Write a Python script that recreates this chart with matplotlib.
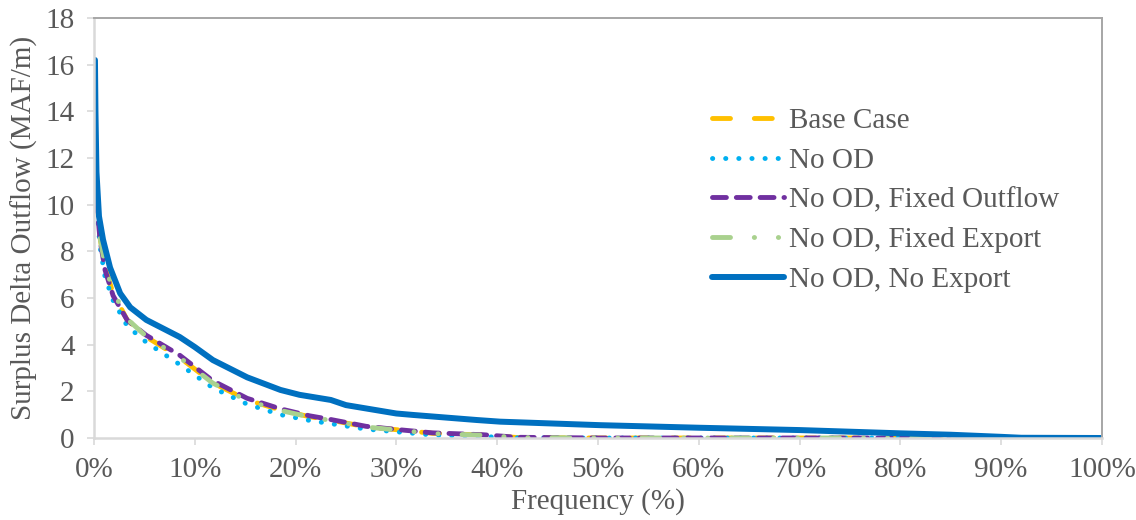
import matplotlib
matplotlib.use("Agg")
import matplotlib.pyplot as plt
from matplotlib.ticker import FuncFormatter, MultipleLocator

plt.rcParams['font.family'] = ['Liberation Serif', 'DejaVu Serif']

# Exceedance frequency (%) and surplus delta outflow (MAF/month)
freq = [0, 0.3, 0.6, 1.1, 1.9, 3.3, 5.2, 8.5, 11.8, 15.2, 18.5, 21.4, 23.4,
        27, 30.4, 33.6, 38.6, 42, 50, 60, 70, 80, 90, 100]
base_case = [12.5, 10.2, 8.6, 7.3, 6.2, 5.06, 4.33, 3.45, 2.36, 1.63, 1.2, 0.91, 0.77,
             0.48, 0.34, 0.2, 0.13, 0.02, 0, 0, 0, 0, 0, 0]
no_od = [12.0, 9.8, 8.2, 6.9, 5.9, 4.8, 4.1, 3.15, 2.15, 1.45, 1.0, 0.75, 0.62,
         0.38, 0.25, 0.13, 0.06, 0.01, 0, 0, 0, 0, 0, 0]
fixed_outflow = [12.3, 10.0, 8.5, 7.2, 6.1, 5.05, 4.4, 3.55, 2.45, 1.7, 1.25, 0.95, 0.8,
                 0.5, 0.35, 0.22, 0.14, 0.03, 0, 0, 0, 0, 0, 0]
fixed_export = [12.4, 10.1, 8.6, 7.4, 6.3, 5.1, 4.35, 3.45, 2.35, 1.6, 1.18, 0.9, 0.76,
                0.47, 0.33, 0.19, 0.12, 0.02, 0, 0, 0, 0, 0, 0]

freq_no_export = [0.1, 0.15, 0.25, 0.5, 0.9, 1.6, 2.6, 3.6, 5.2, 8.5, 10, 11.8, 15.2,
                  18.5, 20.4, 23.5, 25, 30, 31.6, 38, 40.3, 50.2, 60, 70, 80, 85,
                  90, 92, 100]
no_export = [16.2, 14.0, 11.4, 9.5, 8.5, 7.3, 6.2, 5.6, 5.06, 4.33, 3.9, 3.34, 2.6,
             2.06, 1.85, 1.63, 1.41, 1.05, 0.99, 0.77, 0.7, 0.55, 0.44, 0.34, 0.2, 0.14,
             0.05, 0.01, 0.0]

labels = ["Base Case", "No OD", "No OD, Fixed Outflow", "No OD, Fixed Export",
          "No OD, No Export"]

fig = plt.figure(figsize=(11.36, 5.2), dpi=100)
ax = fig.add_axes([0.0827, 0.1577, 0.970 - 0.0827, 0.9654 - 0.1577])

lw_dash = 3.5
ax.plot(freq, base_case, color="#FFC000", lw=lw_dash, linestyle=(0, (3.7, 4.9)),
        dash_capstyle="round", label=labels[0])
ax.plot(freq, no_od, color="#00B0F0", lw=lw_dash, linestyle=(0, (0.05, 2.65)),
        dash_capstyle="round", label=labels[1])
ax.plot(freq, fixed_outflow, color="#7030A0", lw=lw_dash, linestyle=(0, (2.86, 2.04)),
        dash_capstyle="round", label=labels[2])
ax.plot(freq, fixed_export, color="#A9D18E", lw=lw_dash,
        linestyle=(0, (3.7, 4.9, 0.05, 4.9, 0.05, 4.9)),
        dash_capstyle="round", label=labels[3])
ax.plot(freq_no_export, no_export, color="#0070C0", lw=4.3,
        solid_capstyle="round", label=labels[4])

ax.set_xlim(0, 100)
ax.set_ylim(0, 18)
ax.xaxis.set_major_locator(MultipleLocator(10))
ax.yaxis.set_major_locator(MultipleLocator(2))
ax.xaxis.set_major_formatter(FuncFormatter(lambda v, p: f"{v:.0f}%"))

fs = 21
text_color = "#595959"
ax.tick_params(axis="both", direction="out", length=5, width=1.2, color="#D9D9D9",
               labelsize=fs, labelcolor=text_color)
ax.tick_params(axis="y", pad=9)
ax.tick_params(axis="x", pad=9)
for side in ("left", "bottom"):
    ax.spines[side].set_color("#D9D9D9")
    ax.spines[side].set_linewidth(1.8)
for side in ("top", "right"):
    ax.spines[side].set_color("#A6A6A6")
    ax.spines[side].set_linewidth(1.4)

ax.set_xlabel("Frequency (%)", fontsize=fs, color=text_color, labelpad=3)
ax.set_ylabel("Surplus Delta Outflow (MAF/m)", fontsize=fs, color=text_color, labelpad=5)

leg = fig.legend(loc="upper left", bbox_to_anchor=(700 / 1136, 1 - 96 / 520),
                 frameon=False, fontsize=fs, handlelength=2.47, handletextpad=0.17,
                 labelspacing=0.455, borderaxespad=0)
for t in leg.get_texts():
    t.set_color(text_color)

fig.savefig("out.png", dpi=100)
